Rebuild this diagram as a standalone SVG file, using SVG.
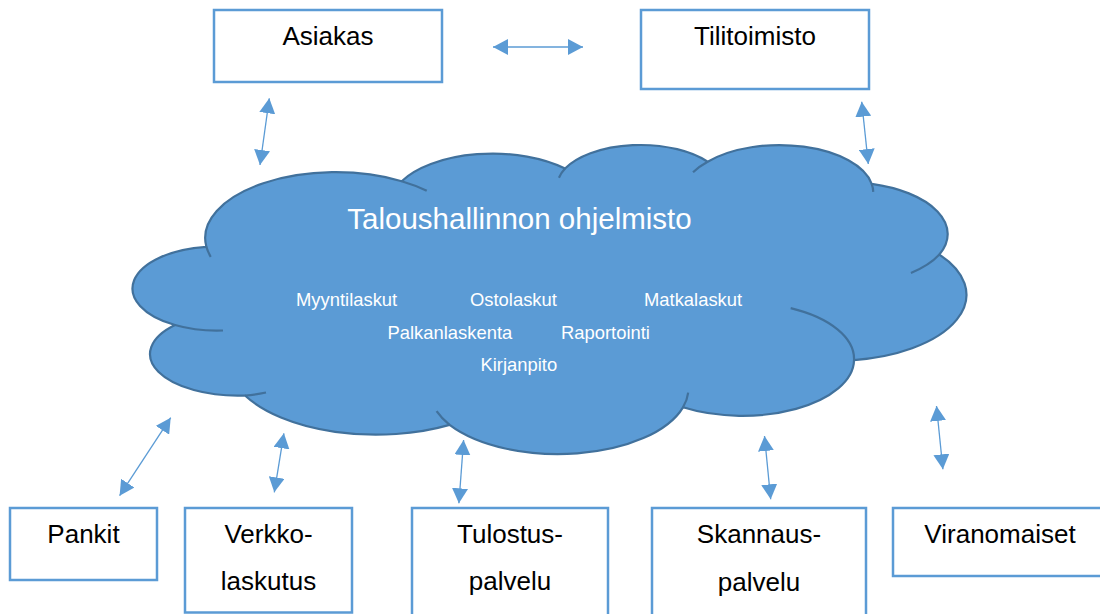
<svg xmlns="http://www.w3.org/2000/svg" width="1100" height="614" viewBox="0 0 1100 614">
<style>
.box{fill:#FFFFFF;stroke:#5B9BD5;stroke-width:2.5}
.lbl{font-family:"Liberation Sans",Arial,sans-serif;font-size:26px;fill:#000000;text-anchor:middle}
.cloud{fill:#5B9BD5;stroke:#41719C;stroke-width:2.2;stroke-linejoin:round}
.stub{fill:none;stroke:#41719C;stroke-width:2.2;stroke-linecap:butt}
.title{font-family:"Liberation Sans",Arial,sans-serif;font-size:29.5px;fill:#FFFFFF;text-anchor:middle}
.item{font-family:"Liberation Sans",Arial,sans-serif;font-size:18.4px;fill:#FFFFFF}
.conn{stroke:#5B9BD5;stroke-width:1.3;fill:none;marker-start:url(#ah);marker-end:url(#ah)}
</style>
<defs>
<marker id="ah" markerUnits="userSpaceOnUse" markerWidth="16" markerHeight="16" refX="15" refY="8" orient="auto-start-reverse" viewBox="0 0 16 16">
<path d="M0,0 L15,8 L0,16 Z" fill="#5B9BD5"/>
</marker>
</defs>
<rect width="1100" height="614" fill="#FFFFFF"/>

<g id="node-cloud">
<path class="cloud" d="M206.38,246.79 A130.53,65.74 0 0 1 401.70,181.21 A103.08,51.98 0 0 1 565.05,168.55 A84.37,42.52 0 0 1 707.68,161.74 A93.88,47.17 0 0 1 871.68,183.88 A103.08,52.02 0 0 1 939.36,254.58 A130.95,65.95 0 0 1 854.03,360.03 A111.82,56.27 0 0 1 683.00,407.31 A130.51,65.91 0 0 1 449.60,424.84 A149.22,75.41 0 0 1 245,395.5 A88,41.6 0 0 1 175,325 A84,42 0 0 1 206.38,246.79 Z"/>
<path class="stub" d="M223,330.5 A84,42 0 0 1 175,325 M266,392.5 A88,41.6 0 0 1 245,395.5 M449.60,424.84 A130.51,65.91 0 0 1 436.6,411.16 M688.2,392.57 A130.51,65.91 0 0 1 683.00,407.31 M790.68,308.19 A111.82,56.27 0 0 1 854.03,360.03 M939.36,254.58 A103.08,52.02 0 0 1 910.93,272.96 M871.68,183.88 A93.88,47.17 0 0 1 873.24,191.85 M693.05,172.27 A93.88,47.17 0 0 1 707.68,161.74 M558.96,177.76 A84.37,42.52 0 0 1 565.05,168.55 M401.70,181.21 A130.53,65.74 0 0 1 426.73,190.78 M210.77,256.94 A130.53,65.74 0 0 1 206.38,246.79"/>
<text class="title" x="519.5" y="229">Taloushallinnon ohjelmisto</text>
<text class="item" x="296" y="306">Myyntilaskut</text>
<text class="item" x="470" y="306">Ostolaskut</text>
<text class="item" x="644" y="306">Matkalaskut</text>
<text class="item" x="387.5" y="339">Palkanlaskenta</text>
<text class="item" x="561" y="339">Raportointi</text>
<text class="item" x="480.5" y="371">Kirjanpito</text>
</g>

<g id="node-asiakas">
<rect class="box" x="214" y="10" width="228" height="72"/>
<text class="lbl" x="328" y="45">Asiakas</text>
</g>
<g id="node-tilitoimisto">
<rect class="box" x="641" y="10" width="228" height="79"/>
<text class="lbl" x="755" y="45">Tilitoimisto</text>
</g>
<g id="node-pankit">
<rect class="box" x="10" y="508" width="147" height="72"/>
<text class="lbl" x="83.5" y="543">Pankit</text>
</g>
<g id="node-verkkolaskutus">
<rect class="box" x="185" y="508" width="167" height="104.5"/>
<text class="lbl" x="268.5" y="543">Verkko-</text>
<text class="lbl" x="268.5" y="590">laskutus</text>
</g>
<g id="node-tulostuspalvelu">
<rect class="box" x="412" y="508" width="196" height="120"/>
<text class="lbl" x="510" y="543">Tulostus-</text>
<text class="lbl" x="510" y="590">palvelu</text>
</g>
<g id="node-skannauspalvelu">
<rect class="box" x="652" y="508" width="214" height="120"/>
<text class="lbl" x="759" y="543">Skannaus-</text>
<text class="lbl" x="759" y="591">palvelu</text>
</g>
<g id="node-viranomaiset">
<rect class="box" x="893" y="508" width="214" height="68"/>
<text class="lbl" x="1000" y="543">Viranomaiset</text>
</g>

<g id="connectors">
<line class="conn" x1="493" y1="47" x2="583" y2="47"/>
<line class="conn" x1="269.3" y1="98.3" x2="260" y2="165"/>
<line class="conn" x1="861.7" y1="101.7" x2="868.3" y2="164"/>
<line class="conn" x1="170.7" y1="417.7" x2="119.6" y2="495.7"/>
<line class="conn" x1="283.9" y1="433.3" x2="274.3" y2="492.3"/>
<line class="conn" x1="463.6" y1="440" x2="458.9" y2="503.3"/>
<line class="conn" x1="764.5" y1="436" x2="770.7" y2="499.3"/>
<line class="conn" x1="936.5" y1="406" x2="942.9" y2="469.3"/>
</g>
</svg>
